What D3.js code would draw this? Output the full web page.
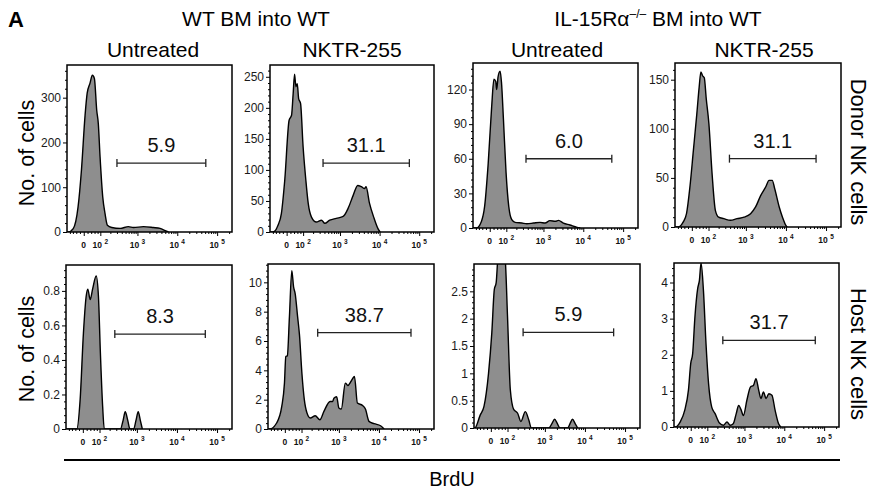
<!DOCTYPE html>
<html>
<head>
<meta charset="utf-8">
<script src="https://cdn.jsdelivr.net/npm/d3@7"></script>
<style>
  body { margin: 0; background: #fff; }
  svg { font-family: "Liberation Sans", Arial, sans-serif; }
</style>
</head>
<body>
<svg id="fig" width="871" height="491"></svg>
<script>
// column / row labels
const treatments = ["Untreated", "NKTR-255", "Untreated", "NKTR-255"];
const rowLabels = ["Donor NK cells", "Host NK cells"];
const gateLabels = ["5.9", "31.1", "6.0", "31.1", "8.3", "38.7", "5.9", "31.7"];

// BrdU axis ticks
const xTickValues = [0, 100, 1000, 10000, 100000];
const xTickExp = ["", "2", "3", "4", "5"];
const xMinorTicks = [-80, -60, -40, -20, 20, 40, 60, 80, 200, 300, 400, 500, 600, 700, 800, 900,
  2000, 3000, 4000, 5000, 6000, 7000, 8000, 9000, 20000, 30000, 40000, 50000, 60000, 70000, 80000, 90000, 200000];

// y ticks per panel
const yTicks = [
  [0, 100, 200, 300], [0, 50, 100, 150, 200, 250], [0, 30, 60, 90, 120], [0, 50, 100, 150],
  [0, 0.2, 0.4, 0.6, 0.8], [0, 2, 4, 6, 8, 10], [0, 0.5, 1, 1.5, 2, 2.5], [0, 1, 2, 3, 4]
];
const yMax = [373, 269, 143, 167, 0.95, 11.25, 3.0, 4.54];

// gates: [from, to, level]
const gates = [
  [300, 52000, 154], [368, 56400, 111], [360, 52000, 60], [385, 56400, 69.6],
  [275, 51000, 0.55], [290, 63000, 6.57], [280, 52000, 1.75], [280, 60000, 2.4]
];

// histograms: [BrdU, cells]
const donorWtUntreated = [[-110,0],[-92,0],[-58,7.5],[-30,56],[-12,138],[7,261],[18,310],[33,332],[47,350],[59,343],[74,272],[85,242],[98,168],[120,78],[141,41],[165,15],[218,10],[365,8],[590,12],[790,10],[1420,12],[2500,10],[3700,8],[5000,3],[6000,0]];
const donorWtNktr = [[-100,0],[-78,0],[-47,10.8],[-28,29.6],[-10,83],[13,180],[26,188],[35,223],[43,254],[51,234],[59,239],[68,215],[81,207],[100,137],[123,83],[145,46],[180,24],[245,16],[335,19],[409,14],[547,19],[800,22],[1200,25],[1600,38],[2150,59],[2800,75],[3450,73],[4170,70],[4550,73],[5570,46],[7100,24],[9100,5.5],[10300,0]];
const donorKoUntreated = [[-100,0],[-76,0],[-45,5.7],[-27,18.7],[-8,56],[10,105],[22,129],[32,127],[37,120],[45,131],[57,136],[66,126],[79,94],[98,48],[120,18.7],[148,7.2],[184,4.9],[280,4.3],[380,3.7],[560,4.3],[820,4.9],[1100,4.3],[1450,6.4],[2000,5.8],[2380,6.6],[3170,4.3],[4600,2.6],[7000,0.6],[8400,0]];
const donorKoNktr = [[-100,0],[-78,0],[-47,5],[-28,13.6],[-10,40.7],[8,78],[26,115],[39,142.5],[49,158],[59,154],[70,152],[83,131],[103,105],[130,54],[162,17],[200,10],[275,8.5],[409,6.8],[600,8.5],[900,10],[1310,13.6],[1750,20.4],[2340,32],[3120,40.7],[3800,47.5],[4550,47.5],[5250,39],[6800,20.4],[8200,10],[9940,1.7],[10800,0]];
const hostWtUntreated = [[-100,0],[-32,0],[-14,0.17],[3,0.555],[17,0.766],[26,0.81],[39,0.75],[53,0.81],[76,0.886],[92,0.766],[106,0.458],[126,0.13],[141,0],[385,0],[450,0.05],[510,0.1],[590,0.05],[670,0],[830,0],[950,0.05],[1080,0.1],[1220,0.05],[1370,0]];
const hostWtNktr = [[-100,0],[-88,0],[-44,0.41],[-16,1.54],[-2,3.13],[5,4.94],[13,5.0],[24,7.66],[37,10.8],[47,9.7],[57,9.2],[72,7.66],[85,6.4],[103,3.8],[123,2.0],[148,1.09],[184,0.75],[250,0.9],[330,0.63],[420,1.2],[600,1.88],[700,1.88],[750,2.1],[880,2.2],[1000,1.43],[1150,1.36],[1450,3.13],[1680,2.97],[2000,3.24],[2450,3.58],[2900,1.77],[3900,1.6],[4600,1.36],[5650,0.52],[7600,0.36],[11000,0.22],[13500,0]];
const hostKoUntreated = [[-100,0],[-95,0],[-58,0.24],[-36,0.40],[-12,1.0],[5,1.74],[18,2.53],[28,2.66],[37,3.1],[60,3.5],[83,3.1],[100,2.04],[123,0.70],[155,0.34],[200,0.27],[245,0.12],[320,0.3],[395,0.14],[455,0],[1250,0],[1500,0.08],[1750,0.16],[2050,0.08],[2380,0],[3700,0],[4250,0.08],[4900,0.16],[5700,0.08],[6600,0]];
const hostKoNktr = [[-100,0],[-90,0],[-58,0.14],[-32,0.46],[-12,1.02],[0,1.76],[10,2.03],[22,3.05],[37,3.83],[47,4.06],[57,4.54],[72,3.79],[90,2.31],[110,1.2],[138,0.55],[173,0.37],[228,0.11],[290,0.05],[360,0.14],[435,0.05],[520,0.09],[620,0.37],[715,0.6],[820,0.48],[940,0.32],[1150,0.74],[1420,1.11],[1680,1.15],[1950,1.34],[2280,1.02],[2600,0.79],[3000,0.97],[3500,0.79],[4100,0.92],[4900,0.88],[5900,0.46],[7200,0.09],[8200,0]];

const series = [donorWtUntreated, donorWtNktr, donorKoUntreated, donorKoNktr,
                hostWtUntreated, hostWtNktr, hostKoUntreated, hostKoNktr];

// panel boxes [x, y, w, h]
const layout = [
  [67, 65, 165, 167], [270, 65, 164, 167], [473, 63, 165, 165], [675, 63, 166, 164],
  [66, 265, 166, 164], [268, 264, 166, 165], [474, 264, 166, 164], [674, 263, 165, 164]
];

// biexponential-ish transform for the BrdU axis
const tf = v => Math.asinh(v / 90) / Math.LN10;

const svg = d3.select("#fig");

series.forEach((data, i) => {
  const [px, py, pw, ph] = layout[i];
  const g = svg.append("g").attr("transform", `translate(${px},${py})`);
  const xs = d3.scaleLinear().domain([-0.42, 3.72]).range([0, pw]);
  const ys = d3.scaleLinear().domain([0, yMax[i]]).range([ph, 0]);
  const xv = v => xs(tf(v));

  g.append("clipPath").attr("id", "clip" + i)
    .append("rect").attr("width", pw).attr("height", ph);

  const area = d3.area().x(d => xv(d[0])).y0(ph).y1(d => ys(d[1])).curve(d3.curveMonotoneX);
  const line = d3.line().x(d => xv(d[0])).y(d => ys(d[1])).curve(d3.curveMonotoneX);

  g.append("path").datum(data).attr("d", area)
    .attr("fill", "#8e8e8e").attr("clip-path", `url(#clip${i})`);
  g.append("path").datum(data).attr("d", line)
    .attr("fill", "none").attr("stroke", "#000").attr("stroke-width", 1.4)
    .attr("clip-path", `url(#clip${i})`);

  g.append("rect").attr("width", pw).attr("height", ph)
    .attr("fill", "none").attr("stroke", "#000").attr("stroke-width", 1.5);

  // y axis
  const step = yTicks[i][1] - yTicks[i][0];
  const minor = d3.range(0, yMax[i], step / 5).filter(v => !yTicks[i].some(t => Math.abs(t - v) < 1e-9));
  const yMinor = g.append("g").call(d3.axisLeft(ys).tickValues(minor).tickSize(2).tickFormat(""));
  const yAxis = g.append("g").call(d3.axisLeft(ys).tickValues(yTicks[i]).tickSize(4).tickPadding(2)
    .tickFormat(d3.format("~g")));
  [yMinor, yAxis].forEach(a => a.select(".domain").remove());
  yAxis.selectAll("text").attr("font-size", 12).attr("fill", "#1a1a1a")
    .attr("font-family", "Liberation Sans, Arial, sans-serif");

  // x axis
  const xg = g.append("g").attr("transform", `translate(0,${ph})`);
  const xMinor = xg.append("g").call(d3.axisBottom(xs).tickValues(xMinorTicks.map(tf)).tickSize(2).tickFormat(""));
  const xMajor = xg.append("g").call(d3.axisBottom(xs).tickValues(xTickValues.map(tf)).tickSize(4).tickFormat(""));
  [xMinor, xMajor].forEach(a => a.select(".domain").remove());

  xTickValues.forEach((v, k) => {
    const t = xg.append("text")
      .attr("x", xv(v)).attr("y", 16)
      .attr("text-anchor", "middle")
      .attr("font-size", 8.5).attr("font-weight", "bold").attr("fill", "#111");
    if (xTickExp[k] === "") {
      t.text("0");
    } else {
      t.append("tspan").text("10 ");
      t.append("tspan").attr("font-size", 6.5).attr("dy", -4).text(xTickExp[k]);
    }
  });

  // gate
  const [lo, hi, lev] = gates[i];
  const gy = ys(lev);
  const gg = g.append("g").attr("stroke", "#222").attr("stroke-width", 1.3);
  gg.append("line").attr("x1", xv(lo)).attr("x2", xv(hi)).attr("y1", gy).attr("y2", gy);
  [lo, hi].forEach(v => gg.append("line").attr("x1", xv(v)).attr("x2", xv(v))
    .attr("y1", gy - 4).attr("y2", gy + 4));
  g.append("text")
    .attr("x", (xv(lo) + xv(hi)) / 2).attr("y", gy - 11)
    .attr("text-anchor", "middle").attr("font-size", 20).attr("fill", "#111")
    .text(gateLabels[i]);
});

// headers
svg.append("text").attr("x", 8).attr("y", 27)
  .attr("font-size", 22).attr("font-weight", "bold").text("A");

svg.append("text").attr("x", 256).attr("y", 26).attr("text-anchor", "middle")
  .attr("font-size", 21).text("WT BM into WT");

const ko = svg.append("text").attr("x", 658).attr("y", 26).attr("text-anchor", "middle")
  .attr("font-size", 21);
ko.append("tspan").text("IL-15R\u03B1");
ko.append("tspan").attr("font-size", 12).attr("dy", -8).text("\u2013/\u2013");
ko.append("tspan").attr("dy", 8).text(" BM into WT");

const colCenters = [153, 352, 557, 764];
treatments.forEach((t, i) => {
  svg.append("text").attr("x", colCenters[i]).attr("y", 57)
    .attr("text-anchor", "middle").attr("font-size", 21).text(t);
});

// left axis titles
[153, 349].forEach(cy => {
  svg.append("text").attr("transform", `translate(34,${cy}) rotate(-90)`)
    .attr("text-anchor", "middle").attr("font-size", 21.5).text("No. of cells");
});

// right row labels
[152, 354].forEach((cy, i) => {
  svg.append("text").attr("transform", `translate(851,${cy}) rotate(90)`)
    .attr("text-anchor", "middle").attr("font-size", 22).text(rowLabels[i]);
});

// shared BrdU axis
svg.append("line").attr("x1", 64).attr("x2", 840).attr("y1", 460).attr("y2", 460)
  .attr("stroke", "#000").attr("stroke-width", 2);
svg.append("text").attr("x", 452).attr("y", 486).attr("text-anchor", "middle")
  .attr("font-size", 20).text("BrdU");
</script>
</body>
</html>
